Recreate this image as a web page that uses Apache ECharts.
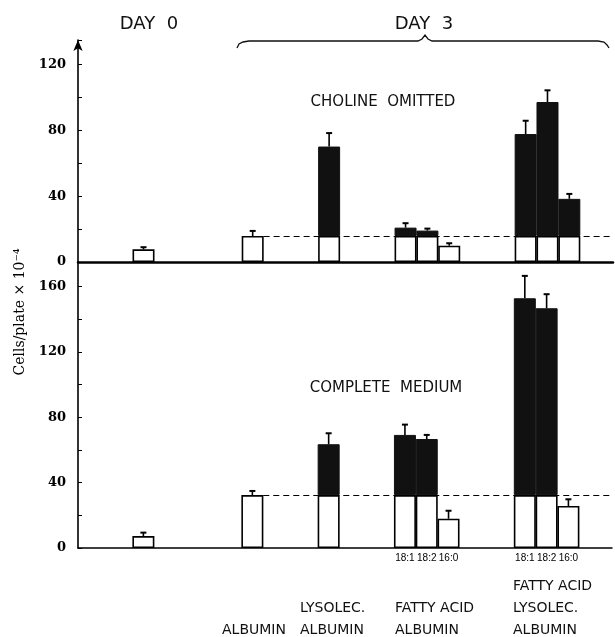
<!DOCTYPE html>
<html>
<head>
<meta charset="utf-8">
<script src="https://cdn.jsdelivr.net/npm/echarts@6/dist/echarts.min.js"></script>
<style>html,body{margin:0;padding:0;background:#fff;}#c{width:615px;height:637px;}</style>
</head>
<body>
<div id="c"></div>
<script>
// ---- data ----
const barNames = ['Day 0', 'Albumin', 'Lysolec. + albumin', 'FA 18:1', 'FA 18:2', 'FA 16:0', 'FA+Lysolec. 18:1', 'FA+Lysolec. 18:2', 'FA+Lysolec. 16:0'];
const fattyAcidLabels = ['', '', '', '18:1', '18:2', '16:0', '18:1', '18:2', '16:0'];
const cholineOmittedTotal = [7.7, 15.8, 70.2, 20.9, 19.1, 9.9, 77.8, 97.3, 38.4];
const cholineOmittedErr = [1.3, 3.1, 8.2, 2.7, 1.2, 1.5, 8.1, 7.1, 3.0];
const completeTotal = [7.3, 32.4, 63.5, 69.2, 66.7, 17.9, 152.8, 146.7, 25.7];
const completeErr = [2.1, 2.5, 6.7, 6.3, 2.5, 4.9, 13.7, 8.6, 4.1];
const topTicks = [0, 40, 80, 120];
const bottomTicks = [0, 40, 80, 120, 160];

// ---- layout (slots on a fine category axis) ----
const slotCount = 50;
const barSlot = [6, 16, 23, 30, 32, 34, 41, 43, 45];
const albuminIndex = 1;
const categories = Array.from({length: slotCount}, (_, i) => 's' + i);
const slotLabel = categories.map(() => '');
barSlot.forEach((s, i) => { slotLabel[s] = fattyAcidLabels[i]; });

function splitParts(totals) {
  const base = totals[albuminIndex];
  const white = barSlot.map((s, i) => [s, Math.min(totals[i], base)]);
  const black = barSlot.map((s, i) => [s, totals[i] > base ? +(totals[i] - base).toFixed(2) : '-']);
  return {base, white, black};
}

function barSeries(gi, totals) {
  const p = splitParts(totals);
  return [
    {
      type: 'bar', xAxisIndex: gi, yAxisIndex: gi, stack: 'st' + gi, barWidth: 22,
      data: p.white, silent: true,
      itemStyle: {color: '#fff', borderColor: '#000', borderWidth: 1.6},
      markLine: {
        silent: true, symbol: 'none', label: {show: false},
        lineStyle: {type: [6, 4], color: '#000', width: 1.2},
        data: [[{coord: [categories[barSlot[albuminIndex] + 1], p.base]}, {coord: [categories[slotCount - 1], p.base]}]]
      }
    },
    {
      type: 'bar', xAxisIndex: gi, yAxisIndex: gi, stack: 'st' + gi, barWidth: 22,
      data: p.black, silent: true,
      itemStyle: {color: '#111', borderColor: '#111', borderWidth: 1}
    }
  ];
}

function errSeries(gi, totals, errs) {
  return {
    type: 'custom', xAxisIndex: gi, yAxisIndex: gi, z: 5, silent: true,
    data: barSlot.map((s, i) => [s, totals[i], +(totals[i] + errs[i]).toFixed(2)]),
    renderItem: (params, api) => {
      const p1 = api.coord([api.value(0), api.value(1)]);
      const p2 = api.coord([api.value(0), api.value(2)]);
      return {type: 'group', children: [
        {type: 'line', shape: {x1: p1[0], y1: p1[1], x2: p2[0], y2: p2[1]}, style: {stroke: '#000', lineWidth: 1.6}},
        {type: 'line', shape: {x1: p2[0] - 3, y1: p2[1], x2: p2[0] + 3, y2: p2[1]}, style: {stroke: '#000', lineWidth: 2}}
      ]};
    }
  };
}

function yAxisDef(gi, max, ticks, arrow) {
  return {
    gridIndex: gi, type: 'value', min: 0, max: max, interval: 20,
    axisLine: {show: true, symbol: arrow ? ['none', 'arrow'] : 'none', symbolSize: [7, 11], lineStyle: {color: '#000', width: 1.6}},
    axisTick: {show: true, inside: true, length: 4, lineStyle: {color: '#000', width: 1}},
    axisLabel: {formatter: v => ticks.indexOf(v) >= 0 ? String(v) : '', fontFamily: 'DejaVu Serif', fontWeight: 'bold', fontSize: 13, color: '#000', margin: 12},
    splitLine: {show: false}
  };
}

const chart = echarts.init(document.getElementById('c'), null, {renderer: 'canvas'});
const sans = '"DejaVu Sans"';
function txt(text, x, y, size, align) {
  return {type: 'text', x: x, y: y, silent: true, style: {text: text, fill: '#111', font: size + 'px ' + sans, align: align || 'center', verticalAlign: 'middle'}};
}
const option = {
  animation: false,
  backgroundColor: '#fff',
  grid: [
    {left: 78, top: 40, height: 222, right: 2},
    {left: 78, top: 262, height: 286, right: 2}
  ],
  xAxis: [
    {gridIndex: 0, type: 'category', data: categories, boundaryGap: false,
     axisLine: {lineStyle: {color: '#000', width: 2.5}}, axisTick: {show: false}, axisLabel: {show: false}},
    {gridIndex: 1, type: 'category', data: categories, boundaryGap: false,
     axisLine: {lineStyle: {color: '#000', width: 1.5}}, axisTick: {show: false},
     axisLabel: {interval: 0, formatter: (v, i) => slotLabel[i], fontFamily: 'Liberation Sans', fontSize: 10, color: '#000', margin: 5}}
  ],
  yAxis: [yAxisDef(0, 135, topTicks, true), yAxisDef(1, 175, bottomTicks, false)],
  series: [
    ...barSeries(0, cholineOmittedTotal), errSeries(0, cholineOmittedTotal, cholineOmittedErr),
    ...barSeries(1, completeTotal), errSeries(1, completeTotal, completeErr)
  ],
  graphic: [
    txt('DAY  0', 149, 24, 18),
    txt('DAY  3', 424, 24, 18),
    {type: 'polyline', silent: true, shape: {points: [[237,48],[239,44],[243,42],[249,41],[418,41],[422,39],[425,35],[428,39],[432,41],[598,41],[604,42],[607,45],[609,48]]},
     style: {stroke: '#111', lineWidth: 1.3, fill: null}},
    txt('CHOLINE  OMITTED', 383, 102, 15),
    txt('COMPLETE  MEDIUM', 386, 388, 15),
    txt('ALBUMIN', 222, 630, 14, 'left'),
    txt('LYSOLEC.', 300, 608, 14, 'left'),
    txt('ALBUMIN', 300, 630, 14, 'left'),
    txt('FATTY ACID', 395, 608, 14, 'left'),
    txt('ALBUMIN', 395, 630, 14, 'left'),
    txt('FATTY ACID', 513, 586, 14, 'left'),
    txt('LYSOLEC.', 513, 608, 14, 'left'),
    txt('ALBUMIN', 513, 630, 14, 'left'),
    {type: 'text', x: 20, y: 312, rotation: Math.PI / 2, silent: true,
     style: {text: 'Cells/plate × 10⁻⁴', fill: '#000', font: '14px "DejaVu Serif"', align: 'center', verticalAlign: 'middle'}}
  ]
};
chart.setOption(option);
</script>
</body>
</html>
